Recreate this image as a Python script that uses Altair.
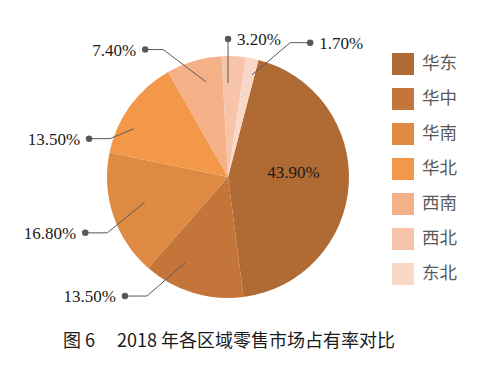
import math
import altair as alt
import pandas as pd

# ---- data ----
regions = ["华东", "华中", "华南", "华北", "西南", "西北", "东北"]
shares = [43.90, 13.50, 16.80, 13.50, 7.40, 3.20, 1.70]
label_texts = ["43.90%", "13.50%", "16.80%", "13.50%", "7.40%", "3.20%", "1.70%"]
colors = ["#B06A33", "#C4753A", "#DE8A42", "#F29848", "#F4B087", "#F7C4AA", "#F9D8C8"]
caption = "图 6　 2018 年各区域零售市场占有率对比"

# ---- layout ----
W, H = 476, 359
CX, CY, R = 220, 169, 121
START_DEG = 14.6
# per label: (start offset from slice mid [deg], start radius, elbow offset [deg], elbow radius, horizontal run)
layout = {
    "华东": (-8.4, 65.7, None, None, None),
    "华中": (9.7, 96, 17.3, 144, -22),
    "华南": (1.7, 87, -6.3, 133, -22),
    "华北": (-9.0, 106, -18.0, 124, -21),
    "西南": (3.4, 97.5, -10.6, 143, -18),
    "西北": (-2.7, 94, -2.7, 138, 0),
    "东北": (1.7, 105, 13.3, 148, 20),
}
TEXT_GAP = 9


def polar(angle_deg, r):
    a = math.radians(angle_deg)
    return CX + r * math.sin(a), CY - r * math.cos(a)


total = sum(shares)
mids = []
acc = START_DEG
for v in shares:
    span = v / total * 360.0
    mids.append(acc + span / 2)
    acc += span

line_rows, dot_rows, text_rows = [], [], []
for reg, txt, mid in zip(regions, label_texts, mids):
    so, sr, eo, er, run = layout[reg]
    sx, sy = polar(mid + so, sr)
    if eo is None:
        text_rows.append({"region": reg, "label": txt, "x": sx, "y": sy, "side": "center"})
        continue
    ex, ey = polar(mid + eo, er)
    dx, dy = ex + run, ey
    line_rows += [
        {"region": reg, "pt": 0, "x": sx, "y": sy},
        {"region": reg, "pt": 1, "x": ex, "y": ey},
        {"region": reg, "pt": 2, "x": dx, "y": dy},
    ]
    dot_rows.append({"region": reg, "x": dx, "y": dy})
    if run < 0:
        text_rows.append({"region": reg, "label": txt, "x": dx - TEXT_GAP, "y": dy, "side": "right"})
    else:
        text_rows.append({"region": reg, "label": txt, "x": dx + TEXT_GAP, "y": dy, "side": "left"})

pie_df = pd.DataFrame({"region": regions, "share": shares, "idx": list(range(len(regions)))})
line_df = pd.DataFrame(line_rows)
dot_df = pd.DataFrame(dot_rows)
text_df = pd.DataFrame(text_rows)

xs = alt.Scale(domain=[0, W], range=[0, W], nice=False, zero=False)
ys = alt.Scale(domain=[0, H], range=[0, H], nice=False, zero=False)

start_rad = math.radians(START_DEG)
arc = alt.Chart(pie_df).mark_arc(outerRadius=R).encode(
    theta=alt.Theta("share:Q", stack=True,
                    scale=alt.Scale(domain=[0, 100], range=[start_rad, start_rad + 2 * math.pi])),
    color=alt.Color("region:N", sort=regions,
                    scale=alt.Scale(domain=regions, range=colors),
                    legend=alt.Legend(title=None, orient="none", legendX=384, legendY=45,
                                      symbolType="square", symbolSize=484, symbolStrokeWidth=0,
                                      labelFontSize=17.5, labelFont="Noto Sans CJK SC",
                                      labelColor="#595959", labelOffset=8, rowPadding=13)),
    order=alt.Order("idx:Q"),
    x=alt.value(CX),
    y=alt.value(CY),
)

lines = alt.Chart(line_df).mark_line(color="#595959", strokeWidth=1).encode(
    x=alt.X("x:Q", scale=xs, axis=None),
    y=alt.Y("y:Q", scale=ys, axis=None),
    detail="region:N",
    order="pt:Q",
)

dots = alt.Chart(dot_df).mark_point(filled=True, color="#595959", size=42, opacity=1).encode(
    x=alt.X("x:Q", scale=xs, axis=None),
    y=alt.Y("y:Q", scale=ys, axis=None),
)

def text_layer(side):
    return alt.Chart(text_df[text_df["side"] == side]).mark_text(
        align=side, baseline="middle", font="Liberation Serif", fontSize=17, color="#1a1a1a", dy=1
    ).encode(
        x=alt.X("x:Q", scale=xs, axis=None),
        y=alt.Y("y:Q", scale=ys, axis=None),
        text="label:N",
    )

cap = alt.Chart(pd.DataFrame({"t": [caption]})).mark_text(
    align="center", baseline="middle", font="Noto Sans CJK SC", fontSize=18,
    color="#1a1a1a"
).encode(x=alt.value(221), y=alt.value(334), text="t:N")

chart = alt.layer(arc, lines, dots, text_layer("left"), text_layer("right"), text_layer("center"), cap).properties(
    width=W, height=H, padding=0, autosize=alt.AutoSizeParams(type="none")
).configure_view(stroke=None)

chart.save("out.html", embed_options={"renderer": "svg", "actions": False})
